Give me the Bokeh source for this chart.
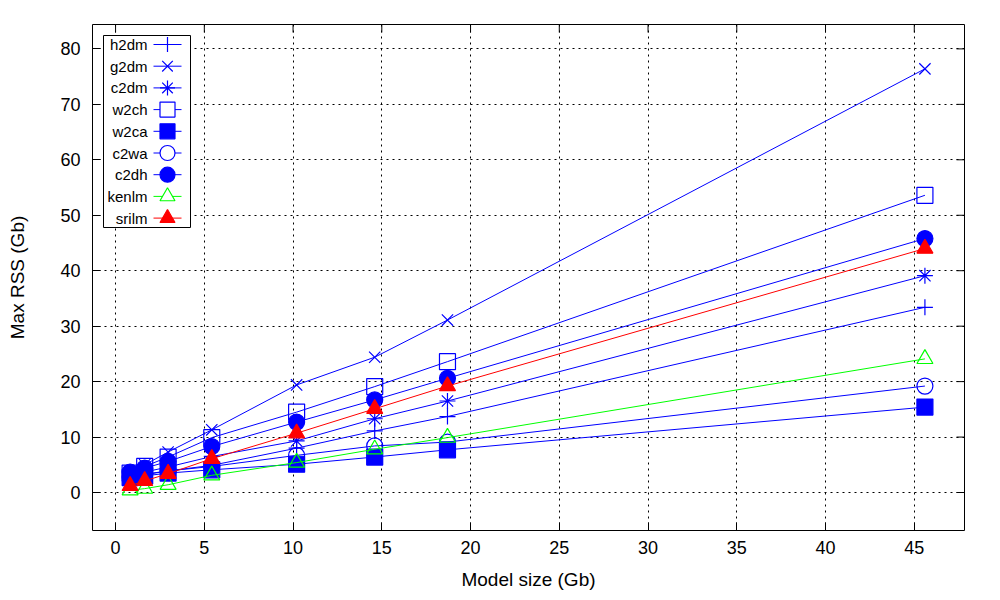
from bokeh.plotting import figure
from bokeh.models import Range1d, FixedTicker
from bokeh.embed import file_html
from bokeh.resources import INLINE
from bokeh.core.properties import value

# ---- data ----
model_size = [0.82, 1.64, 2.96, 5.42, 10.2, 14.6, 18.7, 45.6]
h2dm = [2.8, 3.2, 3.9, 4.9, 8.0, 11.1, 13.7, 33.4]
g2dm = [3.6, 5.0, 7.3, 11.3, 19.4, 24.4, 31.1, 76.4]
c2dm = [3.1, 3.7, 4.6, 6.5, 9.3, 13.3, 16.5, 39.1]
w2ch = [3.5, 4.7, 6.4, 9.9, 14.5, 19.1, 23.6, 53.6]
w2ca = [2.7, 3.0, 3.5, 4.1, 5.1, 6.4, 7.7, 15.4]
c2wa = [2.8, 3.3, 3.9, 4.7, 6.7, 8.4, 9.1, 19.2]
c2dh = [3.7, 4.4, 5.6, 8.3, 12.7, 16.7, 20.6, 45.8]
kenlm = [0.4, 0.7, 1.4, 3.1, 5.4, 7.8, 9.9, 24.1]
srilm = [1.2, 2.1, 3.4, 6.1, 10.7, 15.1, 19.2, 44.0]

series_names = ["h2dm", "g2dm", "c2dm", "w2ch", "w2ca", "c2wa", "c2dh", "kenlm", "srilm"]
series_vals = [h2dm, g2dm, c2dm, w2ch, w2ca, c2wa, c2dh, kenlm, srilm]
series_markers = ["cross", "x", "asterisk", "square", "square", "circle", "circle", "triangle", "triangle"]
series_colors = ["#0000ff"] * 7 + ["#00ff00", "#ff0000"]
series_filled = [False, False, False, False, True, False, True, False, True]

x_ticks = [0, 5, 10, 15, 20, 25, 30, 35, 40, 45]
y_ticks = [0, 10, 20, 30, 40, 50, 60, 70, 80]

# ---- layout ----
FL, FR, FT, FB = 92, 964, 24, 530
FONT = "Liberation Sans"

p = figure(frame_width=FR - FL, frame_height=FB - FT,
           x_range=Range1d(-1.3, 47.83), y_range=Range1d(-6.85, 84.4),
           output_backend="svg", toolbar_location=None,
           min_border_left=FL, min_border_right=1000 - FR,
           min_border_top=FT, min_border_bottom=600 - FB,
           background_fill_color="white", border_fill_color="white")
p.extra_x_ranges = {"px": Range1d(FL, FR)}
p.extra_y_ranges = {"py": Range1d(FB, FT)}

p.outline_line_color = "black"
p.outline_line_width = 1
p.outline_line_alpha = 1

# axes
for ax in p.xaxis + p.yaxis:
    ax.axis_line_color = None
    ax.major_tick_in = 8
    ax.major_tick_out = 0
    ax.minor_tick_line_color = None
    ax.major_tick_line_color = "black"
    ax.major_label_text_font = FONT
    ax.major_label_text_font_size = "18px"
    ax.major_label_text_color = "black"
    ax.axis_label_text_font = FONT
    ax.axis_label_text_font_size = "19px"
    ax.axis_label_text_font_style = "normal"
    ax.axis_label_text_color = "black"
p.xaxis.ticker = FixedTicker(ticks=x_ticks)
p.yaxis.ticker = FixedTicker(ticks=y_ticks)
p.xaxis.axis_label = "Model size (Gb)"
p.yaxis.axis_label = "Max RSS (Gb)"
p.xaxis.major_label_standoff = 10
p.xaxis.axis_label_standoff = 12
p.yaxis.major_label_standoff = 12
p.yaxis.axis_label_standoff = 29

# mirror ticks on top and right (drawn as segments)
TICK = 8
p.segment(x0=x_ticks, x1=x_ticks, y0=[FT] * len(x_ticks), y1=[FT + TICK] * len(x_ticks),
          line_color="black", line_width=1, y_range_name="py")
p.segment(x0=[FR] * len(y_ticks), x1=[FR - TICK] * len(y_ticks), y0=y_ticks, y1=y_ticks,
          line_color="black", line_width=1, x_range_name="px")

# grid
for g in (p.xgrid, p.ygrid):
    g.grid_line_color = "black"
    g.grid_line_dash = "2 4"
    g.grid_line_width = 1
    g.grid_line_alpha = 1

# data
for name, vals, mk, col, filled in zip(series_names, series_vals, series_markers,
                                        series_colors, series_filled):
    p.line(model_size, vals, line_color=col, line_width=1)
    p.scatter(model_size, vals, marker=mk, size=16, line_color=col, line_width=1.2,
              fill_color=col, fill_alpha=1 if filled else 0)

# legend (page-pixel coordinates via extra ranges)
LX0, LX1, LY0, LY1 = 103, 190, 35, 227
p.quad(left=LX0, right=LX1, top=LY0, bottom=LY1, fill_color="white",
       line_color="black", line_width=1, x_range_name="px", y_range_name="py")
row0, row_step = 44, 21.7
for i, (name, mk, col, filled) in enumerate(zip(series_names, series_markers,
                                                 series_colors, series_filled)):
    yy = row0 + i * row_step
    p.text(x=[147], y=[yy], text=[name], text_align="right", text_baseline="middle",
           text_font=value(FONT), text_font_size="15px", text_color="black",
           x_range_name="px", y_range_name="py")
    p.segment(x0=[153], x1=[181], y0=[yy], y1=[yy], line_color=col, line_width=1,
              x_range_name="px", y_range_name="py")
    p.scatter(x=[167], y=[yy], marker=mk, size=15, line_color=col, line_width=1.2,
              fill_color=col if filled else "white", x_range_name="px", y_range_name="py")

open("out.html", "w").write(file_html(p, INLINE))
